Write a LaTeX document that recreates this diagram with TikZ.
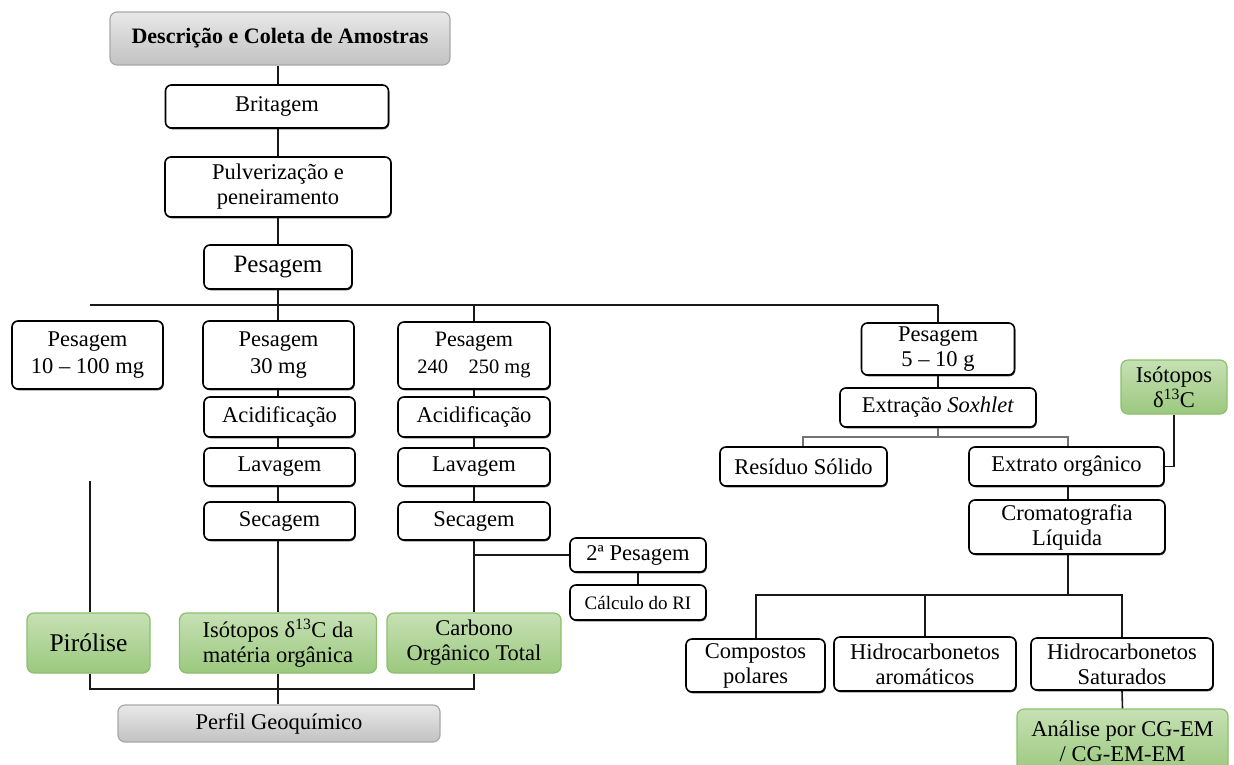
\documentclass[tikz,border=0pt]{standalone}
\usepackage{fontspec}
\setmainfont{Liberation Serif}
\usetikzlibrary{shadows}
\definecolor{gtop}{HTML}{C6E1B4}
\definecolor{gbot}{HTML}{9BC87E}
\definecolor{gborder}{HTML}{8DBE6E}
\definecolor{graytop}{HTML}{E8E8E8}
\definecolor{graybot}{HTML}{C2C2C2}
\definecolor{grayborder}{HTML}{A8A8A8}
\tikzset{
  box/.style={draw=black, line width=1.6pt, rounded corners=6pt, fill=white, align=center, inner sep=0pt, font=\fontsize{22.5}{25}\selectfont, drop shadow={shadow xshift=0.8pt, shadow yshift=-1.3pt, fill=black!75, opacity=1}},
  greenbox/.style={draw=gborder, line width=1.2pt, rounded corners=7pt, top color=gtop, bottom color=gbot, align=center, inner sep=0pt, font=\fontsize{22.5}{25}\selectfont},
  graybox/.style={draw=grayborder, line width=1.2pt, rounded corners=7pt, top color=graytop, bottom color=graybot, align=center, inner sep=0pt, font=\fontsize{22.5}{25}\selectfont},
  conn/.style={draw=black!90, line width=1.6pt},
  gconn/.style={draw=black!55, line width=1.6pt},
  sz/.style 2 args={minimum width=#1pt, minimum height=#2pt},
}
\begin{document}
\begin{tikzpicture}[x=1pt, y=-1pt]
\useasboundingbox (0,0) rectangle (1234,764);
% top chain
\node[graybox, sz={340}{53}, font=\bfseries\fontsize{22}{25}\selectfont] (desc) at (280,38.5) {Descrição e Coleta de Amostras};
\node[box, sz={223}{43}] (brit) at (277,106.5) {Britagem};
\node[box, sz={226}{60}] (pulv) at (278,187) {Pulverização e\\peneiramento};
\node[box, sz={148}{44}, font=\fontsize{25}{28}\selectfont] (pes0) at (278,267) {Pesagem};
% level of weighings
\node[box, sz={151}{68}, font=\fontsize{22.5}{27}\selectfont] (p1) at (87.5,355) {Pesagem\\10 – 100 mg};
\node[box, sz={151}{68}, font=\fontsize{22.5}{27}\selectfont] (p2) at (278.5,355) {Pesagem\\30 mg};
\node[box, sz={152}{67}, font=\fontsize{22}{27}\selectfont] (p3) at (474,355.5) {Pesagem\\{\fontsize{20.5}{21}\selectfont 240\quad 250 mg}};
\node[box, sz={153}{52}, font=\fontsize{22.5}{25}\selectfont] (p4) at (938,349) {Pesagem\\5 – 10 g};
% left columns
\node[box, sz={151}{40}] (acid1) at (279.5,417) {Acidificação};
\node[box, sz={151}{38}] (lav1) at (279.5,467) {Lavagem};
\node[box, sz={151}{38}] (sec1) at (279.5,521) {Secagem};
\node[box, sz={152}{40}] (acid2) at (474,417) {Acidificação};
\node[box, sz={152}{38}] (lav2) at (474,467) {Lavagem};
\node[box, sz={152}{38}] (sec2) at (474,521) {Secagem};
\node[box, sz={136}{34}] (pesag2) at (638,555) {2ª Pesagem};
\node[box, sz={136}{35}, font=\fontsize{19}{21}\selectfont] (calc) at (638,602.5) {Cálculo do RI};
% green results
\node[greenbox, sz={123}{60}, font=\fontsize{25.5}{28}\selectfont] (pir) at (88.5,643) {Pirólise};
\node[greenbox, sz={197}{60}] (iso1) at (278,643) {Isótopos δ\textsuperscript{13}C da\\matéria orgânica};
\node[greenbox, sz={174}{60}] (cot) at (474,643) {Carbono\\Orgânico Total};
\node[graybox, sz={322}{37}] (perfil) at (279,723.5) {Perfil Geoquímico};
% right part
\node[box, sz={196}{39}] (sox) at (938,407.5) {Extração \textit{Soxhlet}};
\node[box, sz={167}{39}] (res) at (803.5,466.5) {Resíduo Sólido};
\node[box, sz={195}{39}] (ext) at (1066.5,466.5) {Extrato orgânico};
\node[box, sz={196}{54}] (crom) at (1067,527) {Cromatografia\\Líquida};
\node[greenbox, sz={106}{54}] (iso2) at (1174,387) {Isótopos\\δ\textsuperscript{13}C};
\node[box, sz={139}{53}] (comp) at (755.5,665.5) {Compostos\\polares};
\node[box, sz={182}{54}] (aro) at (925,664) {Hidrocarbonetos\\aromáticos};
\node[box, sz={182}{52}] (sat) at (1122,664) {Hidrocarbonetos\\Saturados};
\node[greenbox, sz={211}{64}] (ana) at (1122.5,741) {Análise por CG-EM\\/ CG-EM-EM};
% coordinates
\coordinate (hl) at (90,305);
\coordinate (hr) at (938,305);
\coordinate (pirtop) at (90,481);
\coordinate (bl) at (90,689);
\coordinate (br) at (474,689);
\coordinate (sl) at (803,437);
\coordinate (sr) at (1068,437);
\coordinate (cl) at (756,595);
\coordinate (cr) at (1122,595);
% connectors
\draw[conn] (desc.south -| pes0.south) -- (pes0.south |- brit.north);
\draw[conn] (pes0.north |- brit.south) -- (pes0.north |- pulv.north);
\draw[conn] (pulv.south) -- (pes0.north);
\draw[conn] (pes0.south) -- (pes0.south |- hl);
\draw[conn] (hl) -- (hr);
\draw[conn] (pes0.south |- hl) -- (pes0.south |- p2.north);
\draw[conn] (p3.north |- hl) -- (p3.north);
\draw[conn] (hr) -- (hr |- p4.north);
\draw[conn] (p2.south -| iso1.north) -- (iso1.north |- acid1.north);
\draw[conn] (iso1.north |- acid1.south) -- (iso1.north |- lav1.north);
\draw[conn] (iso1.north |- lav1.south) -- (iso1.north |- sec1.north);
\draw[conn] (iso1.north |- sec1.south) -- (iso1.north);
\draw[conn] (p3.south) -- (p3.south |- acid2.north);
\draw[conn] (p3.south |- acid2.south) -- (p3.south |- lav2.north);
\draw[conn] (p3.south |- lav2.south) -- (p3.south |- sec2.north);
\draw[conn] (p3.south |- sec2.south) -- (p3.south |- cot.north);
\draw[conn] (p3.south |- pesag2.west) -- (pesag2.west);
\draw[conn] (pesag2.south) -- (calc.north);
\draw[conn] (pirtop) -- (pirtop |- pir.north);
\draw[conn] (bl |- pir.south) -- (bl) -- (br) -- (br |- cot.south);
\draw[conn] (iso1.south) -- (iso1.south |- perfil.north);
% right connectors
\draw[conn] (hr |- p4.south) -- (hr |- sox.north);
\draw[gconn] (hr |- sox.south) -- (hr |- sl);
\draw[gconn] (sr |- ext.north) -- (sr) -- (sl) -- (sl |- res.north);
\draw[conn] (iso2.south) -- (iso2.south |- ext.east) -- (ext.east);
\draw[conn] (sr |- ext.south) -- (sr |- crom.north);
\draw[conn] (sr |- crom.south) -- (sr |- cl);
\draw[conn] (cl |- comp.north) -- (cl) -- (cr) -- (cr |- sat.north);
\draw[conn] (aro.north |- cl) -- (aro.north);
\draw[conn] (sat.south) -- (ana.north);
\end{tikzpicture}
\end{document}
